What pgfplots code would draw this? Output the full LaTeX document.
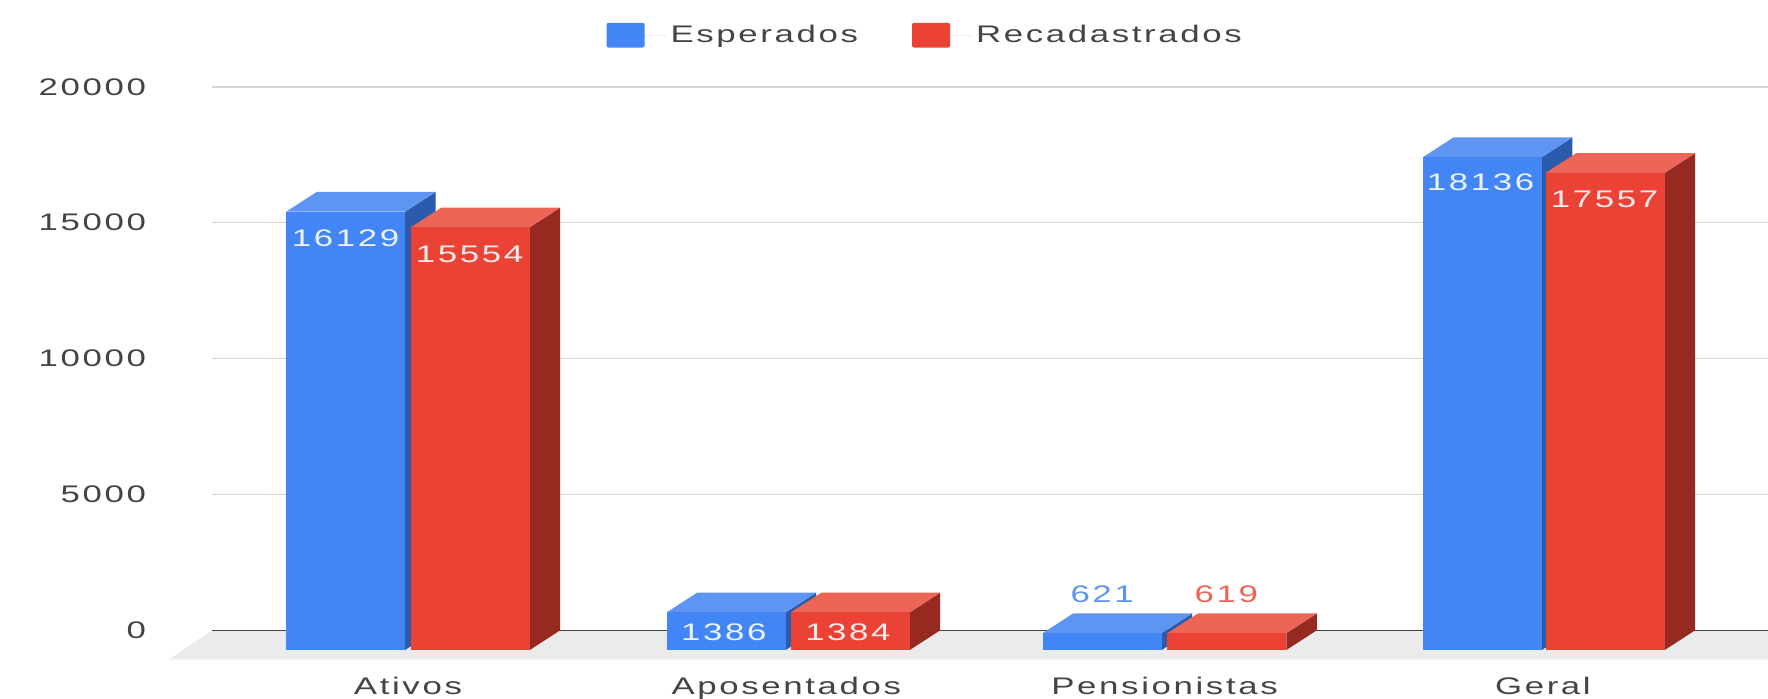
\documentclass[border=0pt]{standalone}
\usepackage{fontspec}
\setmainfont[FakeStretch=1.45,LetterSpace=11]{Liberation Sans}
\usepackage{pgfplots}
\pgfplotsset{compat=1.18}

\definecolor{gblue}{HTML}{4285F4}
\definecolor{gbluetop}{HTML}{5F95F2}
\definecolor{gblueside}{HTML}{2B5BAA}
\definecolor{gred}{HTML}{EA4335}
\definecolor{gredtop}{HTML}{EC6557}
\definecolor{gredside}{HTML}{962A20}
\definecolor{gridc}{HTML}{D6D6D6}
\definecolor{floorc}{HTML}{EBEBEB}
\definecolor{txt}{HTML}{444444}

% #1 left edge, #2 value, #3 front, #4 top, #5 side
\newcommand{\threedbar}[5]{%
  \pgfmathsetmacro{\xr}{#1+0.3144}%
  \pgfmathsetmacro{\xlb}{#1+0.0805}%
  \pgfmathsetmacro{\xrb}{#1+0.3949}%
  \edef\yf{\the\numexpr#2-725\relax}%
  \addplot[draw=none,fill=#5,forget plot] coordinates {(\xr,-725) (\xrb,0) (\xrb,#2) (\xr,\yf)} -- cycle;
  \addplot[draw=none,fill=#4,forget plot] coordinates {(#1,\yf) (\xr,\yf) (\xrb,#2) (\xlb,#2)} -- cycle;
  \addplot[draw=none,fill=#3,forget plot] coordinates {(#1,-725) (\xr,-725) (\xr,\yf) (#1,\yf)} -- cycle;
}

\begin{document}
\begin{tikzpicture}
\path[use as bounding box] (0,0) rectangle (884pt,349pt);
\begin{axis}[
  at={(106pt,33.85pt)}, anchor=south west,
  scale only axis, width=778pt, height=271.75pt,
  xmin=-0.518, xmax=3.595, ymin=0, ymax=20000,
  clip=false,
  axis line style={draw=none},
  major tick length=0pt,
  ytick={0,5000,10000,15000,20000},
  ymajorgrids,
  grid style={gridc,line width=0.8pt},
  xtick={0,1,2,3},
  xticklabels={Ativos,Aposentados,Pensionistas,Geral},
  scaled y ticks=false,
  /pgf/number format/1000 sep={},
  /pgf/number format/assume math mode=true,
  tick label style={font=\fontsize{12}{14}\selectfont,text=txt},
  yticklabel style={anchor=east,xshift=-29.5pt,yshift=0pt},
  xticklabel style={anchor=base,yshift=-32pt},
  legend columns=2,
  legend style={at={(0.459,1.095)},anchor=center,draw=none,fill=none,
    font=\fontsize{12}{14}\selectfont,text=txt,
    /tikz/every even column/.append style={column sep=25pt}},
  legend cell align=left,
]
% floor and zero line
\addplot[draw=none,fill=floorc,forget plot] coordinates {(-0.518,0) (3.595,0) (3.595,-1079) (-0.632,-1079)} -- cycle;
\addplot[draw=txt,line width=0.8pt,forget plot] coordinates {(-0.518,0) (3.595,0)};

\threedbar{-0.322}{16129}{gblue}{gbluetop}{gblueside}
\threedbar{0.0075}{15554}{gred}{gredtop}{gredside}
\threedbar{0.684}{1386}{gblue}{gbluetop}{gblueside}
\threedbar{1.012}{1384}{gred}{gredtop}{gredside}
\threedbar{1.678}{621}{gblue}{gbluetop}{gblueside}
\threedbar{2.0075}{619}{gred}{gredtop}{gredside}
\threedbar{2.683}{18136}{gblue}{gbluetop}{gblueside}
\threedbar{3.0075}{17557}{gred}{gredtop}{gredside}

\addlegendimage{area legend,draw=none,fill=gblue,
  legend image code/.code={\fill[gblue,rounded corners=1pt] (0pt,-6.2pt) rectangle (19pt,6.2pt); \path (0pt,0pt) -- (30pt,0pt);}}
\addlegendentry{Esperados}
\addlegendimage{area legend,draw=none,fill=gred,
  legend image code/.code={\fill[gred,rounded corners=1pt] (0pt,-6.2pt) rectangle (19pt,6.2pt); \path (0pt,0pt) -- (30pt,0pt);}}
\addlegendentry{Recadastrados}

\tikzset{vlab/.style={font=\fontsize{12}{14}\selectfont,inner sep=0pt}}
\node[vlab,text=white!90!gblue] at (axis cs:-0.165,14440) {16129};
\node[vlab,text=white!90!gred] at (axis cs:0.163,13817) {15554};
\node[vlab,text=white!90!gblue] at (axis cs:0.835,-83) {1386};
\node[vlab,text=white!90!gred] at (axis cs:1.163,-83) {1384};
\node[vlab,text=gbluetop] at (axis cs:1.835,1328) {621};
\node[vlab,text=gredtop] at (axis cs:2.163,1328) {619};
\node[vlab,text=white!90!gblue] at (axis cs:2.835,16473) {18136};
\node[vlab,text=white!90!gred] at (axis cs:3.163,15851) {17557};
\end{axis}
\end{tikzpicture}
\end{document}
